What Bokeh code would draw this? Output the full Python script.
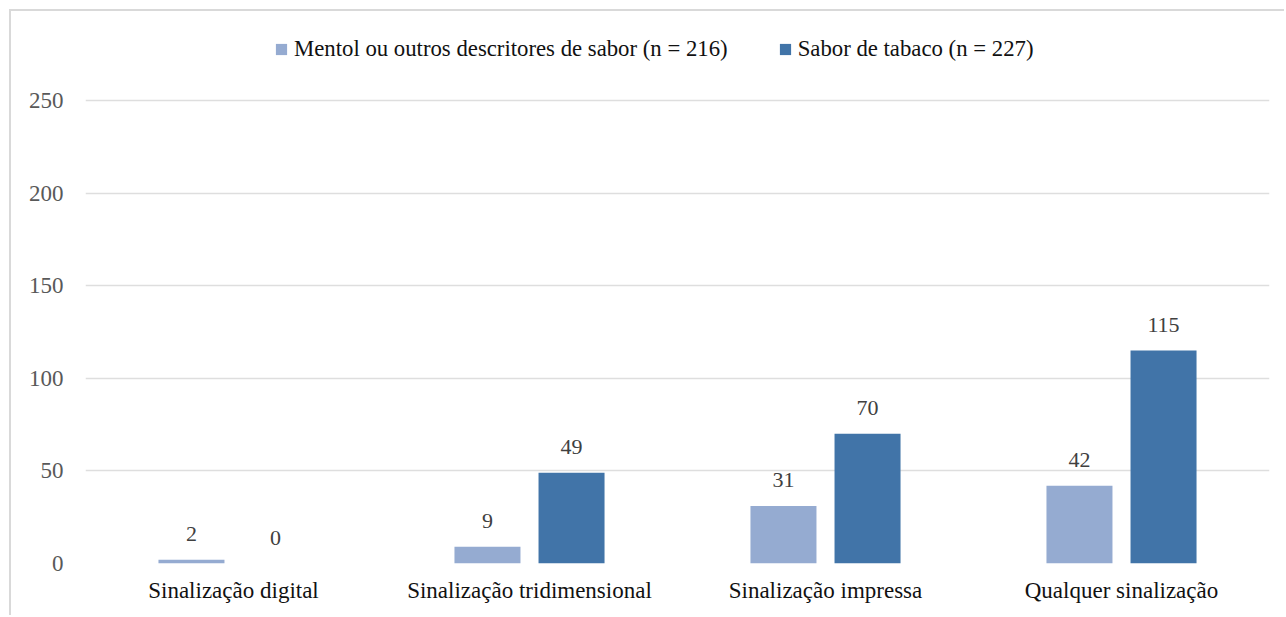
from bokeh.plotting import figure
from bokeh.models import ColumnDataSource, Range1d, Legend, LegendItem, FixedTicker
from bokeh.transform import dodge
from bokeh.core.properties import value
from bokeh.embed import file_html
from bokeh.resources import INLINE

categories = ["Sinalização digital", "Sinalização tridimensional", "Sinalização impressa", "Qualquer sinalização"]
mentol = [2, 9, 31, 42]
tabaco = [0, 49, 70, 115]
series_names = ["Mentol ou outros descritores de sabor (n = 216)", "Sabor de tabaco (n = 227)"]
y_ticks = [0, 50, 100, 150, 200, 250]

LIGHT = "#95abd1"
DARK = "#4174a8"
FONT = "Liberation Serif"

src = ColumnDataSource(dict(
    cat=categories,
    mentol=mentol,
    tabaco=tabaco,
    mentol_lbl=[str(v) for v in mentol],
    tabaco_lbl=[str(v) for v in tabaco],
))

p = figure(
    x_range=categories,
    y_range=Range1d(0, 287.8),
    width=1275, height=606,
    output_backend="svg", toolbar_location=None,
    min_border_left=74, min_border_right=17,
    min_border_top=19, min_border_bottom=54,
)
p.styles = {"margin-left": "9px", "margin-top": "9px",
            "border-left": "2px solid #d9d9d9", "border-top": "2px solid #d9d9d9"}
p.outline_line_color = None

r1 = p.vbar(x=dodge("cat", -0.142, range=p.x_range), top="mentol", width=0.223,
            source=src, color=LIGHT, line_color=None)
r2 = p.vbar(x=dodge("cat", 0.142, range=p.x_range), top="tabaco", width=0.223,
            source=src, color=DARK, line_color=None)

for xoff, col in [(-0.142, "mentol"), (0.142, "tabaco")]:
    p.text(x=dodge("cat", xoff, range=p.x_range), y=col, text=col + "_lbl", source=src,
           text_align="center", text_baseline="alphabetic", y_offset=-26,
           text_font=value(FONT), text_font_size="22px", text_color="#404040")

p.xgrid.grid_line_color = None
p.ygrid.grid_line_color = "#dedede"
p.ygrid.grid_line_width = 1.3
p.ygrid.ticker = FixedTicker(ticks=y_ticks)
p.yaxis.ticker = FixedTicker(ticks=y_ticks)
for ax in (p.xaxis, p.yaxis):
    ax.axis_line_color = None
    ax.major_tick_line_color = None
    ax.minor_tick_line_color = None
p.yaxis.major_label_text_font = FONT
p.yaxis.major_label_text_font_size = "23px"
p.yaxis.major_label_text_color = "#595959"
p.yaxis.major_label_standoff = 16
p.xaxis.major_label_text_font = FONT
p.xaxis.major_label_text_font_size = "23px"
p.xaxis.major_label_text_color = "#111111"
p.xaxis.major_label_standoff = 8

legend = Legend(items=[LegendItem(label=series_names[0], renderers=[r1]),
                       LegendItem(label=series_names[1], renderers=[r2])],
                orientation="horizontal", location=(189, 501),
                label_text_font=FONT, label_text_font_size="22.75px", label_text_color="#111111",
                glyph_width=14, glyph_height=14, label_standoff=6, spacing=50,
                border_line_color=None, background_fill_alpha=0, padding=0, margin=0)
p.add_layout(legend, "center")

open("out.html", "w").write(file_html(p, INLINE))
